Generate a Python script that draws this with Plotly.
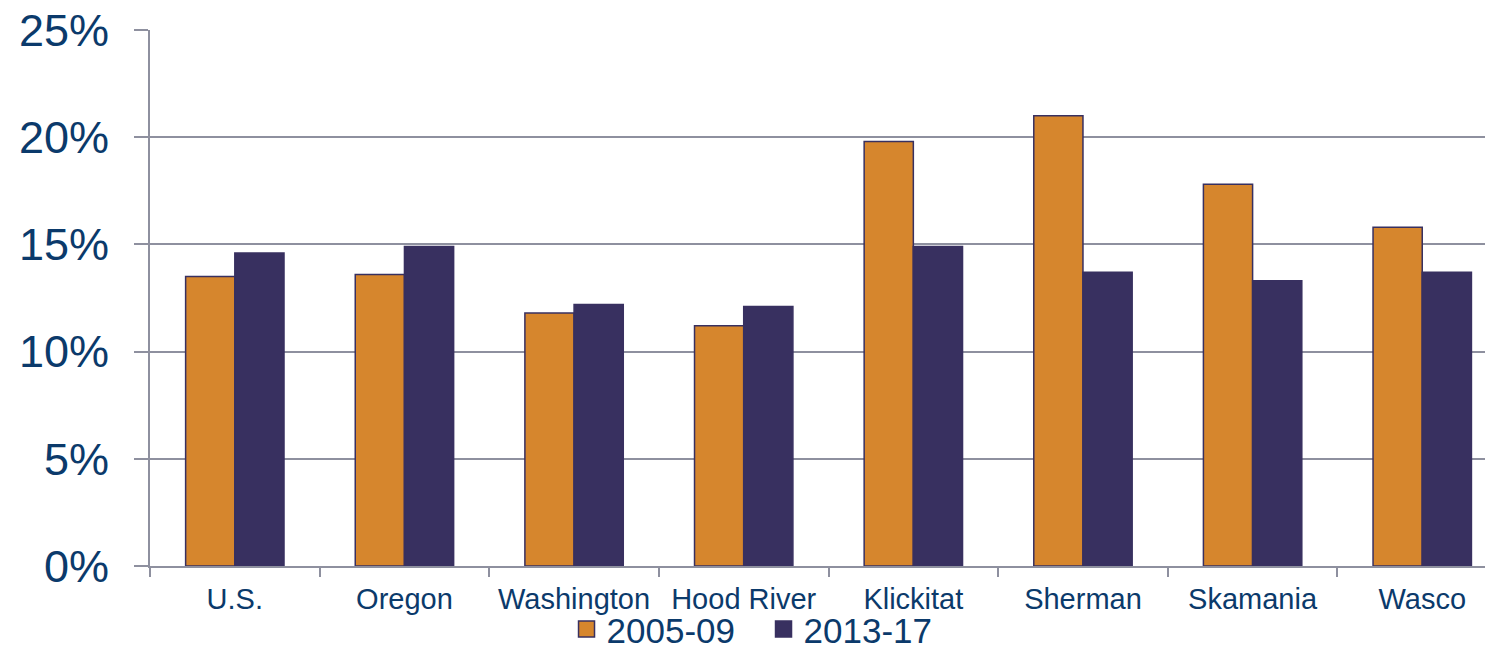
import plotly.graph_objects as go

# data
places = ['U.S.', 'Oregon', 'Washington', 'Hood River', 'Klickitat', 'Sherman', 'Skamania', 'Wasco']
p2005_09 = [13.5, 13.6, 11.8, 11.2, 19.8, 21.0, 17.8, 15.8]
p2013_17 = [14.6, 14.9, 12.2, 12.1, 14.9, 13.7, 13.3, 13.7]
series = ['2005-09', '2013-17']

orange = '#D6862D'
purple = '#383060'
navy = '#0B3A6B'
grid = '#8E909F'

fig = go.Figure()
fig.add_trace(go.Bar(x=places, y=p2005_09, name=series[0], showlegend=False,
                     marker=dict(color=orange, line=dict(color=purple, width=1.5))))
fig.add_trace(go.Bar(x=places, y=p2013_17, name=series[1], showlegend=False,
                     marker=dict(color=purple, line=dict(color=purple, width=1.5))))
# legend entries with larger square swatches
for name, col in zip(series, [orange, purple]):
    fig.add_trace(go.Scatter(x=[None], y=[None], mode='markers', name=name,
                             marker=dict(symbol='square', size=20, color=col,
                                         line=dict(color=purple, width=1.5))))

# page body adds an 8px margin, so the figure is 16px smaller than the window
fig.update_layout(
    width=1477, height=639,
    margin=dict(l=142, r=0, t=22, b=81, autoexpand=False),
    plot_bgcolor='white', paper_bgcolor='white',
    barmode='group', bargap=0.42, bargroupgap=0,
    font=dict(family='Liberation Sans, Arial, sans-serif', color=navy),
    legend=dict(orientation='h', x=0.312, xanchor='left', y=-0.118, yanchor='middle',
                bgcolor='rgba(0,0,0,0)', entrywidth=152,
                font=dict(size=35, color=navy), itemwidth=30),
)
# the last category runs past the right edge in the reference
fig.update_xaxes(range=[-0.5, 7.37], showline=True, linecolor=grid, linewidth=2, automargin=False,
                 ticks='outside', tickson='boundaries', ticklen=9, tickcolor=grid, tickwidth=2,
                 ticklabelstandoff=6,
                 tickfont=dict(size=29, color=navy), showgrid=False)
fig.update_yaxes(range=[0, 25], dtick=5, ticksuffix='%', automargin=False,
                 showline=True, linecolor=grid, linewidth=2,
                 ticks='outside', ticklen=14, tickcolor=grid, tickwidth=2,
                 ticklabelstandoff=16, ticklabeloverflow='allow',
                 showgrid=True, gridcolor=grid, gridwidth=2, zeroline=False,
                 tickfont=dict(size=45, color=navy))

fig.write_html("out.html")
